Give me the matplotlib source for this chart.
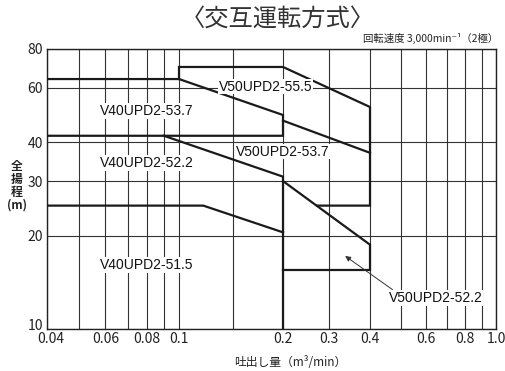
"""
plot.py - pump selection chart (alternating operation), log-log head vs discharge.
"""

import matplotlib

matplotlib.use("Agg")
import matplotlib.pyplot as plt
import matplotlib.transforms as mtransforms
import numpy as np

plt.rcParams["font.family"] = ["Noto Sans CJK JP", "DejaVu Sans"]

TITLE = "〈交互運転方式〉"
SUBTITLE = "回転速度 3,000min⁻¹（2極）"
X_LABEL = "吐出し量（m³/min）"
Y_LABEL = "全\n揚\n程\n(m)"

# axis grid and ticks
Q_GRID = [0.04, 0.05, 0.06, 0.07, 0.08, 0.09, 0.1, 0.15, 0.2, 0.3, 0.4, 0.5, 0.6, 0.7, 0.8, 0.9, 1.0]
Q_TICKS = [0.04, 0.06, 0.08, 0.1, 0.2, 0.3, 0.4, 0.6, 0.8, 1.0]
Q_TICK_LABELS = ["0.04", "0.06", "0.08", "0.1", "0.2", "0.3", "0.4", "0.6", "0.8", "1.0"]
H_TICKS = [10, 20, 30, 40, 60, 80]

# boundary lines of the selection areas (discharge m3/min, head m)
upper_q = [0.04, 0.1, 0.1, 0.2, 0.4, 0.4, 0.27]
upper_h = [64, 64, 70, 70, 52, 25, 25]
v40_537_q = [0.1, 0.2, 0.2, 0.04]
v40_537_h = [64, 49, 42, 42]
v50_537_q = [0.2, 0.4]
v50_537_h = [47, 37]
v40_522_q = [0.09, 0.2, 0.2]
v40_522_h = [42, 31, 10]
v50_522_q = [0.2, 0.4, 0.4, 0.2]
v50_522_h = [30, 18.7, 15.5, 15.5]
v40_515_q = [0.04, 0.12, 0.2]
v40_515_h = [25, 25, 20.5]

MODELS = ["V40UPD2-53.7", "V40UPD2-52.2", "V40UPD2-51.5", "V50UPD2-55.5", "V50UPD2-53.7", "V50UPD2-52.2"]
LABEL_POS = [(0.08, 50.5), (0.08, 34.3), (0.08, 16.1), (0.181, 60.5), (0.2, 37.3), (0.645, 12.6)]

# the printed discharge axis is not a uniform log scale: calibrate it piecewise
Q_SCALE = [0.04, 0.1, 0.15, 0.2, 0.3, 0.4, 1.0]
Q_SCALE_PX = [0, 132, 186, 236, 282, 323, 449]


def q_forward(q):
    q = np.clip(np.asarray(q, dtype=float), 1e-6, None)
    return np.interp(np.log10(q), np.log10(Q_SCALE), Q_SCALE_PX, left=-1e3, right=1e3)


def q_inverse(p):
    return 10 ** np.interp(p, Q_SCALE_PX, np.log10(Q_SCALE))


def nudge(label, dx_px, dy_px):
    # shift a tick label by a few pixels
    offset = mtransforms.ScaledTranslation(dx_px / 100, dy_px / 100, fig.dpi_scale_trans)
    label.set_transform(label.get_transform() + offset)


fig = plt.figure(figsize=(5.05, 3.71), dpi=100)
ax = fig.add_axes([47 / 505, 42 / 371, 449 / 505, 280 / 371])

ax.set_xscale("function", functions=(q_forward, q_inverse))
ax.set_yscale("log")
ax.set_xlim(0.04, 1.0)
ax.set_ylim(10, 80)

ax.set_xticks(Q_GRID)
ax.set_xticklabels([Q_TICK_LABELS[Q_TICKS.index(q)] if q in Q_TICKS else "" for q in Q_GRID])
ax.set_yticks(H_TICKS)
ax.set_yticklabels([str(h) for h in H_TICKS])
ax.xaxis.set_minor_locator(matplotlib.ticker.NullLocator())
ax.yaxis.set_minor_locator(matplotlib.ticker.NullLocator())
ax.tick_params(length=0, labelsize=10, colors="#222")
ax.tick_params(axis="x", pad=2.5)
ax.tick_params(axis="y", pad=3)
ax.grid(True, color="#333", lw=0.8)
for s in ax.spines.values():
    s.set_color("#222")
    s.set_linewidth(1.0)

line_kw = dict(color="#1a1a1a", lw=1.6, solid_joinstyle="miter", zorder=3)
for q, h in [
    (upper_q, upper_h),
    (v40_537_q, v40_537_h),
    (v50_537_q, v50_537_h),
    (v40_522_q, v40_522_h),
    (v50_522_q, v50_522_h),
    (v40_515_q, v40_515_h),
]:
    ax.plot(q, h, **line_kw)

for name, (q, h) in zip(MODELS, LABEL_POS):
    ax.text(q, h, name, ha="center", va="center", fontsize=10, family=["Liberation Sans", "DejaVu Sans"],
            color="#111", zorder=4, bbox=dict(facecolor="white", edgecolor="none", pad=0.5))

ax.annotate("", xy=(0.336, 17.2), xytext=(0.471, 13.4), zorder=4,
            arrowprops=dict(arrowstyle="-|>", lw=0.7, color="#333", mutation_scale=8, shrinkA=0, shrinkB=0))

fig.text(278 / 505, 1 - 19 / 371, TITLE, ha="center", va="center", fontsize=17.5, color="#333")
fig.text(498 / 505, 1 - 38 / 371, SUBTITLE, ha="right", va="center", fontsize=7.5, color="#222")
fig.text(290 / 505, 1 - 362 / 371, X_LABEL, ha="center", va="center", fontsize=8.5, color="#222")
fig.text(17 / 505, 1 - 186 / 371, Y_LABEL, ha="center", va="center", fontsize=8.5, color="#222",
         linespacing=1.0, fontweight="bold")

# corner labels sit apart, as printed
nudge(ax.get_xticklabels()[0], 4, 0)
nudge(ax.get_yticklabels()[0], 0, 4)

fig.savefig("out.png", dpi=100)
